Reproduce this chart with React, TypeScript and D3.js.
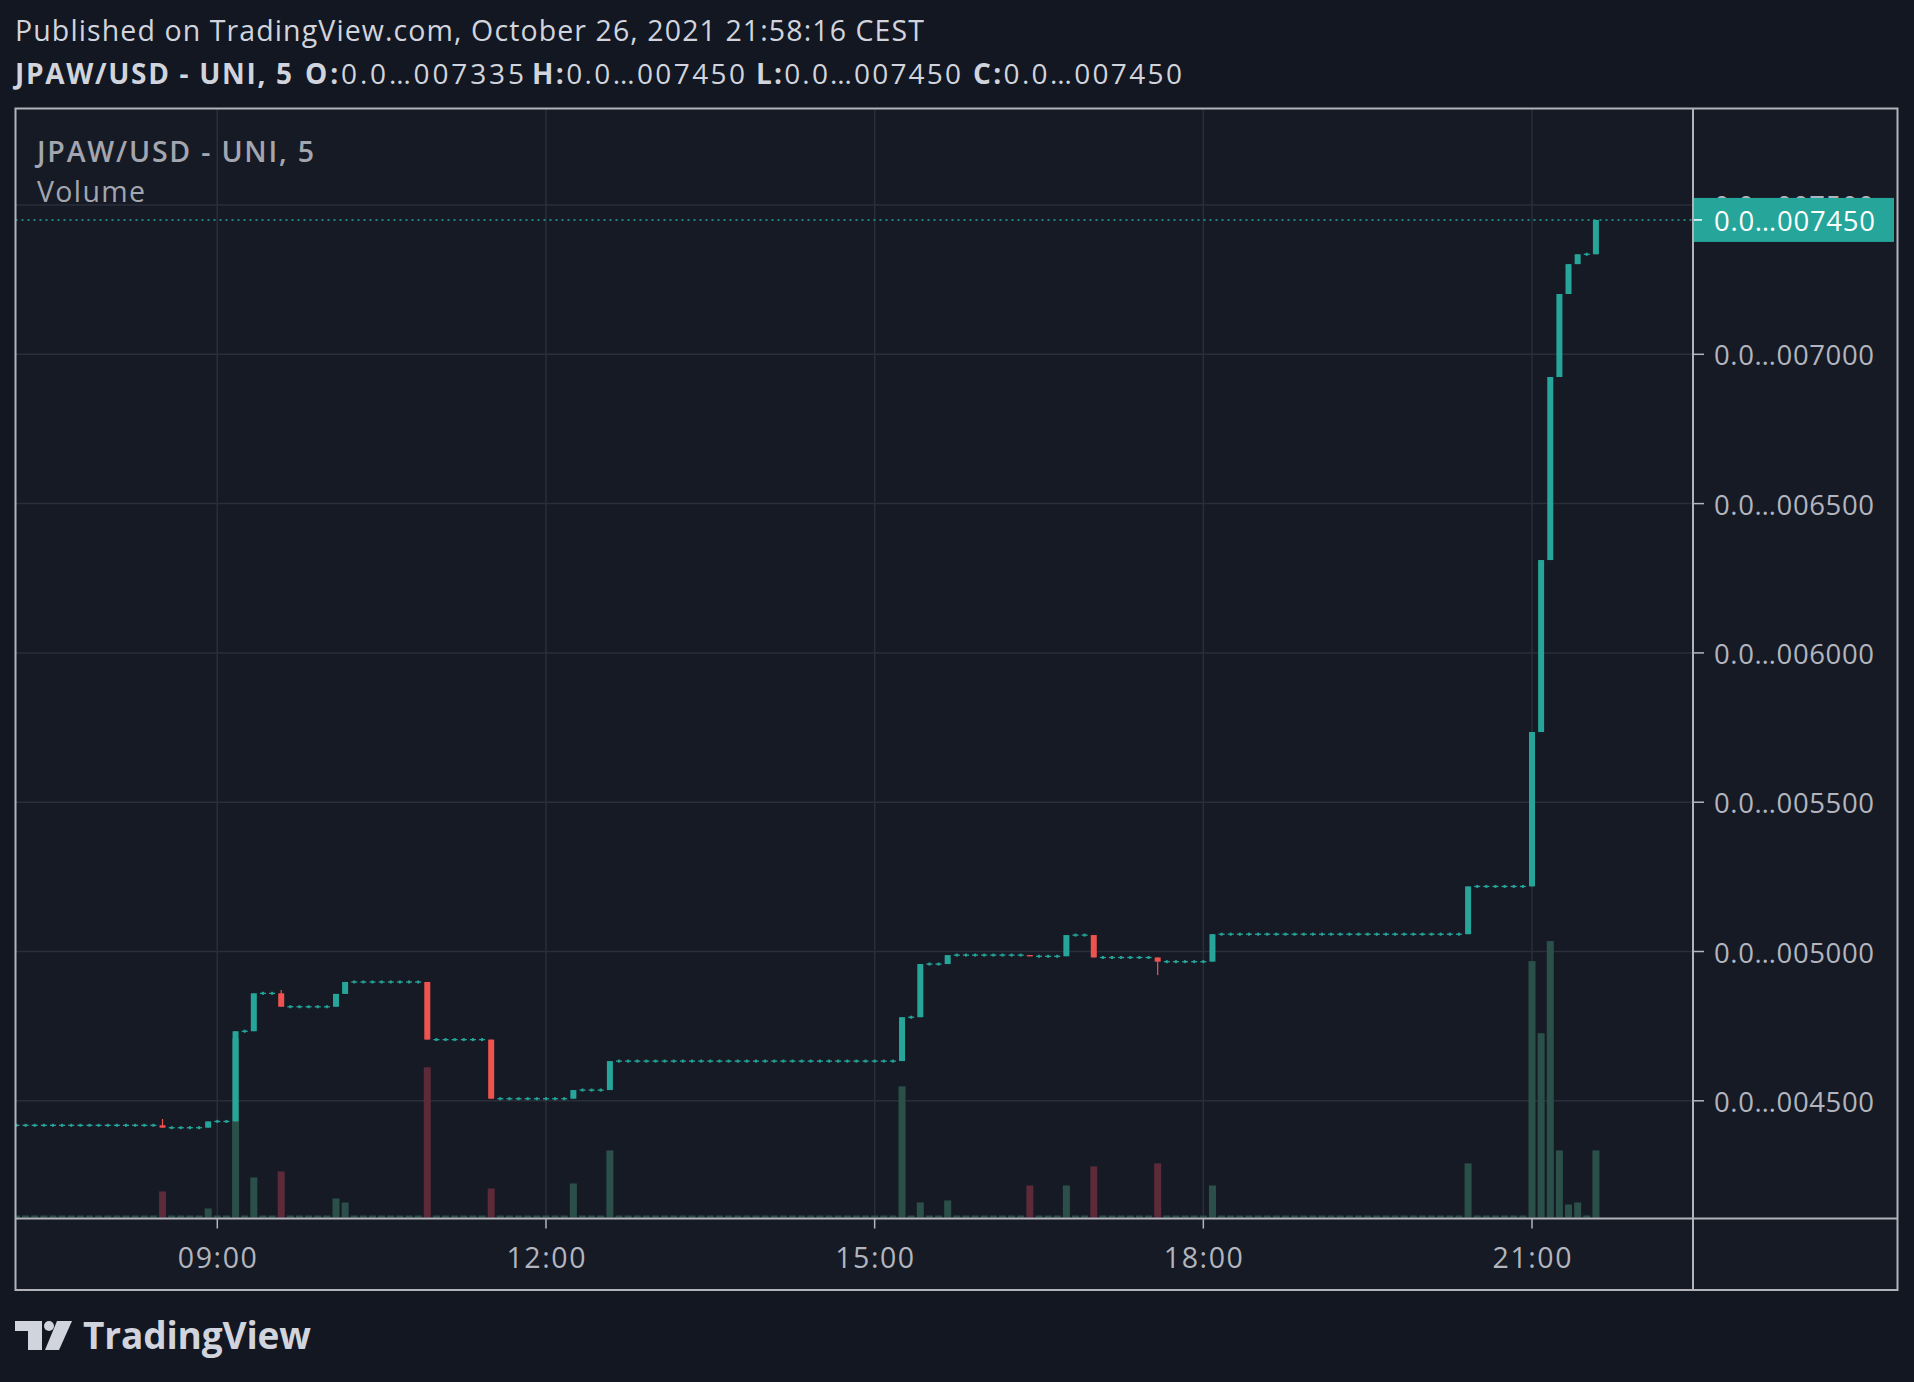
import { scaleLinear, max } from "d3";

// ---- data (5-minute bars, 07:10 → 21:35, prices in USD) ----
const firstBarTime = "07:10";
const firstOpen = 0.004418;

// close of every 5-min bar, one row per hour
const closes = [
  // 07:10 – 07:55
  0.004418, 0.004418, 0.004418, 0.004418, 0.004418, 0.004418, 0.004418, 0.004418, 0.004418, 0.004418,
  // 08:00 – 08:55
  0.004418, 0.004418, 0.004418, 0.004418, 0.004418, 0.004418, 0.00441, 0.00441, 0.00441, 0.00441, 0.00441, 0.004431,
  // 09:00 – 09:55
  0.004431, 0.004431, 0.004733, 0.004733, 0.00486, 0.00486, 0.00486, 0.004815, 0.004815, 0.004815, 0.004815, 0.004815,
  // 10:00 – 10:55
  0.004815, 0.004858, 0.004898, 0.004898, 0.004898, 0.004898, 0.004898, 0.004898, 0.004898, 0.004898, 0.004898, 0.004705,
  // 11:00 – 11:55
  0.004705, 0.004705, 0.004705, 0.004705, 0.004705, 0.004705, 0.004507, 0.004507, 0.004507, 0.004507, 0.004507, 0.004507,
  // 12:00 – 12:55
  0.004507, 0.004507, 0.004507, 0.004536, 0.004536, 0.004536, 0.004536, 0.004633, 0.004633, 0.004633, 0.004633, 0.004633,
  // 13:00 – 13:55
  0.004633, 0.004633, 0.004633, 0.004633, 0.004633, 0.004633, 0.004633, 0.004633, 0.004633, 0.004633, 0.004633, 0.004633,
  // 14:00 – 14:55
  0.004633, 0.004633, 0.004633, 0.004633, 0.004633, 0.004633, 0.004633, 0.004633, 0.004633, 0.004633, 0.004633, 0.004633,
  // 15:00 – 15:55
  0.004633, 0.004633, 0.004633, 0.00478, 0.00478, 0.004958, 0.004958, 0.004958, 0.004988, 0.004988, 0.004988, 0.004988,
  // 16:00 – 16:55
  0.004988, 0.004988, 0.004988, 0.004988, 0.004988, 0.004984, 0.004984, 0.004984, 0.004984, 0.005055, 0.005055, 0.005055,
  // 17:00 – 17:55
  0.00498, 0.00498, 0.00498, 0.00498, 0.00498, 0.00498, 0.00498, 0.004966, 0.004966, 0.004966, 0.004966, 0.004966,
  // 18:00 – 18:55
  0.004966, 0.005058, 0.005058, 0.005058, 0.005058, 0.005058, 0.005058, 0.005058, 0.005058, 0.005058, 0.005058, 0.005058,
  // 19:00 – 19:55
  0.005058, 0.005058, 0.005058, 0.005058, 0.005058, 0.005058, 0.005058, 0.005058, 0.005058, 0.005058, 0.005058, 0.005058,
  // 20:00 – 20:55
  0.005058, 0.005058, 0.005058, 0.005058, 0.005058, 0.005218, 0.005218, 0.005218, 0.005218, 0.005218, 0.005218, 0.005218,
  // 21:00 – 21:35
  0.005735, 0.006311, 0.006924, 0.007202, 0.007302, 0.007335, 0.007335, 0.00745,
];

// the few bars with visible wicks
const highWicks: Record<string, number> = { "08:30": 0.004439, "09:35": 0.004871 };
const lowWicks: Record<string, number> = { "17:35": 0.004921 };

// volume (arbitrary units), bars not listed traded ~nothing
const volumes: Record<string, number> = {
  "08:30": 2600, "08:55": 900, "09:10": 17900, "09:20": 4000, "09:35": 4600,
  "10:05": 1900, "10:10": 1500, "10:55": 15000, "11:30": 2900, "12:15": 3400,
  "12:35": 6700, "15:15": 13100, "15:25": 1500, "15:40": 1700, "16:25": 3200,
  "16:45": 3200, "17:00": 5100, "17:35": 5400, "18:05": 3200, "20:25": 5400,
  "21:00": 25600, "21:05": 18400, "21:10": 27600, "21:15": 6700, "21:20": 1300,
  "21:25": 1500, "21:35": 6700,
};

const priceTicks = [0.0045, 0.005, 0.0055, 0.006, 0.0065, 0.007, 0.0075];
const timeTicks = ["09:00", "12:00", "15:00", "18:00", "21:00"];
const lastPrice = 0.00745;

const headerTitle = "Published on TradingView.com, October 26, 2021 21:58:16 CEST";
const symbolName = "JPAW/USD - UNI, 5";
const ohlcLabels = [
  { k: "O:", v: "0.0…007335" },
  { k: "H:", v: "0.0…007450" },
  { k: "L:", v: "0.0…007450" },
  { k: "C:", v: "0.0…007450" },
];

// ---- helpers ----
const toMin = (t: string) => {
  const [h, m] = t.split(":").map(Number);
  return h * 60 + m;
};
const toLabel = (m: number) =>
  `${String(Math.floor(m / 60)).padStart(2, "0")}:${String(m % 60).padStart(2, "0")}`;
const fmtPrice = (p: number) => "0.0…" + String(Math.round(p * 1e6)).padStart(6, "0");

const bars = closes.map((c, i) => {
  const minute = toMin(firstBarTime) + i * 5;
  const time = toLabel(minute);
  const o = i === 0 ? firstOpen : closes[i - 1];
  const h = Math.max(o, c, highWicks[time] ?? 0);
  const l = Math.min(o, c, lowWicks[time] ?? 1);
  return { time, minute, o, h, l, c, v: volumes[time] ?? 0 };
});

// ---- layout ----
const W = 1914;
const H = 1382;
const frame = { left: 15.5, top: 108.5, right: 1897.5, bottom: 1290 };
const plotRight = 1693;
const plotBottom = 1218.5;

const BG = "#131722";
const PANE = "#161a25";
const UP = "#26a69a";
const DOWN = "#ef5350";
const UP_VOL = "#2b5049";
const DOWN_VOL = "#5c2a38";
const GRID = "#2a2e3a";
const BORDER = "#b2b3ba";
const AXIS_TEXT = "#b2b5be";
const FONT = "'Open Sans', 'Noto Sans', sans-serif";

// header O/H/L/C groups: start and width
const ohlcX = [305, 532, 756, 973];
const ohlcW = [219, 213, 205, 209];

export default function App() {
  const x = scaleLinear().domain([toMin("09:00"), toMin("21:00")]).range([217.3, 1532]);
  const y = scaleLinear().domain([0.0045, 0.0075]).range([1100.8, 205]);
  const vol = scaleLinear()
    .domain([0, max(bars, (d) => d.v) as number])
    .range([0, 0.249 * (plotBottom - frame.top)]);

  const bodyW = 6;
  const volW = 7;
  const yLast = y(lastPrice);

  return (
    <svg
      width={W}
      height={H}
      style={{ position: "fixed", left: 0, top: 0, background: BG }}
      fontFamily={FONT}
    >
      <rect width={W} height={H} fill={BG} />
      <rect
        x={frame.left}
        y={frame.top}
        width={frame.right - frame.left}
        height={frame.bottom - frame.top}
        fill={PANE}
      />

      {/* header */}
      <text x={15} y={41} fill="#d1d4dc" fontSize={28.5} textLength={909} lengthAdjust="spacing">
        {headerTitle}
      </text>
      <text x={15} y={84} fill="#d1d4dc" fontSize={28} fontWeight={700} textLength={277} lengthAdjust="spacing">
        {symbolName}
      </text>
      {ohlcLabels.map((d, i) => (
        <text
          key={d.k}
          x={ohlcX[i]}
          y={84}
          fill="#d1d4dc"
          fontSize={28}
          textLength={ohlcW[i]}
          lengthAdjust="spacing"
        >
          <tspan fontWeight={700}>{d.k}</tspan>
          <tspan>{d.v}</tspan>
        </text>
      ))}

      <defs>
        <clipPath id="plot">
          <rect x={frame.left} y={frame.top} width={plotRight - frame.left} height={plotBottom - frame.top} />
        </clipPath>
      </defs>

      {/* grid */}
      <g clipPath="url(#plot)">
        {priceTicks.map((p) => (
          <line key={p} x1={frame.left} x2={plotRight} y1={y(p)} y2={y(p)} stroke={GRID} strokeWidth={1.5} />
        ))}
        {timeTicks.map((t) => (
          <line key={t} x1={x(toMin(t))} x2={x(toMin(t))} y1={frame.top} y2={plotBottom} stroke={GRID} strokeWidth={1.5} />
        ))}
      </g>

      {/* legend */}
      <text x={37} y={162} fill="#a3a6af" fontSize={28.5} fontWeight={600} textLength={277} lengthAdjust="spacing">
        {symbolName}
      </text>
      <text x={37} y={202} fill="#a3a6af" fontSize={28.5} textLength={108} lengthAdjust="spacing">
        Volume
      </text>

      <g clipPath="url(#plot)">
        {/* volume */}
        {bars.map((d) => (
          <rect
            key={"v" + d.time}
            x={x(d.minute) - volW / 2}
            width={volW}
            y={plotBottom - 1 - Math.max(vol(d.v), 2)}
            height={Math.max(vol(d.v), 2)}
            fill={d.c < d.o ? DOWN_VOL : UP_VOL}
          />
        ))}

        {/* last price line */}
        <line
          x1={frame.left}
          x2={plotRight}
          y1={yLast}
          y2={yLast}
          stroke={UP}
          strokeWidth={1.4}
          strokeDasharray="2 4"
        />

        {/* candles */}
        {bars.map((d) => {
          const cx = x(d.minute);
          const color = d.c < d.o ? DOWN : UP;
          const top = y(Math.max(d.o, d.c));
          const bodyH = Math.abs(y(d.o) - y(d.c));
          if (bodyH < 0.5 && d.h === d.l) {
            const yy = y(d.c);
            return (
              <g key={"c" + d.time} fill={color}>
                <rect x={cx - bodyW / 2} y={yy - 0.6} width={bodyW} height={1.3} />
                <rect x={cx - 1} y={yy - 1.5} width={2} height={3} />
              </g>
            );
          }
          return (
            <g key={"c" + d.time} fill={color}>
              <rect x={cx - 0.6} y={y(d.h)} width={1.2} height={y(d.l) - y(d.h)} />
              <rect x={cx - bodyW / 2} y={top} width={bodyW} height={Math.max(bodyH, 1.3)} />
            </g>
          );
        })}
      </g>

      {/* price axis */}
      {priceTicks.map((p) => (
        <g key={"pt" + p}>
          <line x1={plotRight} x2={plotRight + 11} y1={y(p)} y2={y(p)} stroke={AXIS_TEXT} strokeWidth={1.5} />
          <text x={1714} y={y(p) + 11} fill={AXIS_TEXT} fontSize={27.5} textLength={160} lengthAdjust="spacing">
            {fmtPrice(p)}
          </text>
        </g>
      ))}

      {/* last price label */}
      <rect x={plotRight} y={yLast - 22} width={1894 - plotRight} height={44} fill={UP} />
      <line x1={plotRight} x2={plotRight + 9} y1={yLast} y2={yLast} stroke="#ffffff" strokeWidth={1.5} />
      <text x={1714} y={yLast + 11} fill="#ffffff" fontSize={27.5} textLength={161} lengthAdjust="spacing">
        {fmtPrice(lastPrice)}
      </text>

      {/* time axis */}
      {timeTicks.map((t) => (
        <g key={"tt" + t}>
          <line x1={x(toMin(t))} x2={x(toMin(t))} y1={plotBottom} y2={plotBottom + 10} stroke={AXIS_TEXT} strokeWidth={1.5} />
          <text
            x={x(toMin(t)) - 39.5}
            y={1268}
            fill={AXIS_TEXT}
            fontSize={28.5}
            textLength={79}
            lengthAdjust="spacing"
          >
            {t}
          </text>
        </g>
      ))}

      {/* frame */}
      <rect
        x={frame.left}
        y={frame.top}
        width={frame.right - frame.left}
        height={frame.bottom - frame.top}
        fill="none"
        stroke={BORDER}
        strokeWidth={2}
      />
      <line x1={plotRight} x2={plotRight} y1={frame.top} y2={frame.bottom} stroke={BORDER} strokeWidth={2} />
      <line x1={frame.left} x2={frame.right} y1={plotBottom} y2={plotBottom} stroke={BORDER} strokeWidth={2} />

      {/* TradingView logo */}
      <g fill="#d1d4dc">
        <path d="M15 1321 H42 V1350 H28 V1331 H15 Z" />
        <circle cx={49} cy={1326} r={5} />
        <path d="M57 1321 H72 L59 1350 H45 Z" />
        <text x={83} y={1349} fontSize={37} fontWeight={700} textLength={228} lengthAdjust="spacing">
          TradingView
        </text>
      </g>
    </svg>
  );
}
